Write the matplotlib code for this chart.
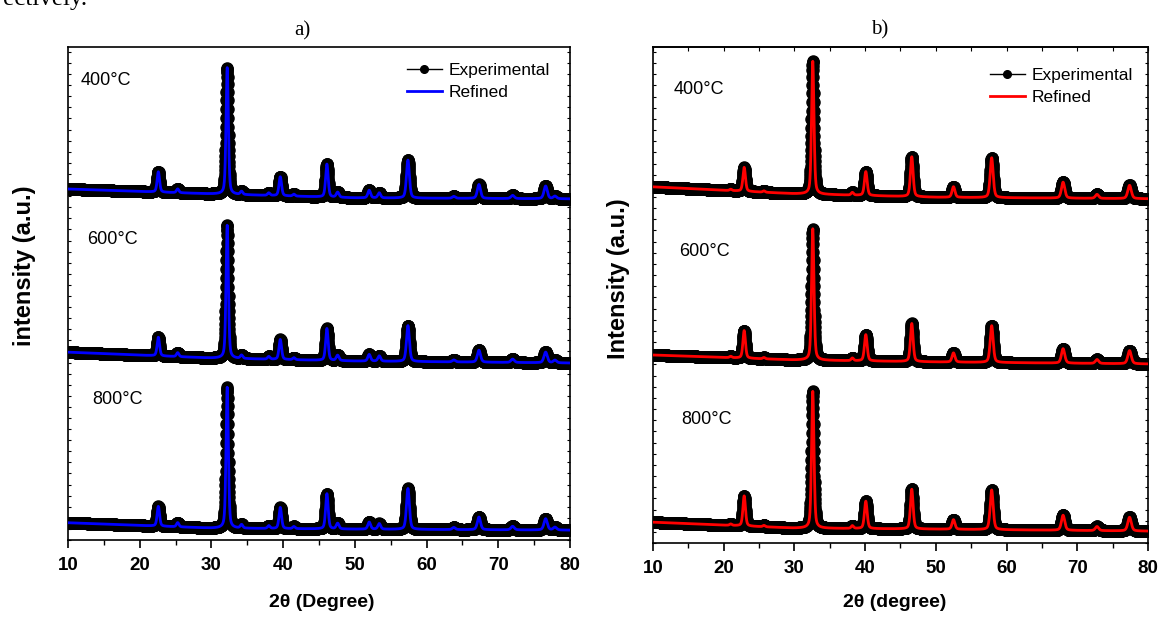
import numpy as np
import matplotlib
matplotlib.use('Agg')
import matplotlib.pyplot as plt
from matplotlib.lines import Line2D
from matplotlib.ticker import MultipleLocator, NullFormatter

# Data (y in axis units, heights relative to main peak)
temps = ['400°C', '600°C', '800°C']

# panel a) peak positions (2theta) and relative heights per temperature
peaks_a = [22.6, 25.3, 32.2, 34.2, 38.0, 39.6, 41.5, 46.1, 47.6, 52.0, 53.4, 57.4, 63.8, 67.3, 72.0, 76.6, 77.9]
fwhm_a = [0.40, 0.40, 0.38, 0.40, 0.40, 0.42, 0.40, 0.42, 0.45, 0.45, 0.45, 0.48, 0.5, 0.52, 0.55, 0.55, 0.55]
hts_a_400 = [0.16, 0.03, 1.0, 0.025, 0.02, 0.15, 0.015, 0.26, 0.04, 0.06, 0.04, 0.30, 0.015, 0.11, 0.025, 0.10, 0.02]
hts_a_600 = [0.14, 0.03, 1.0, 0.025, 0.02, 0.15, 0.015, 0.24, 0.04, 0.05, 0.04, 0.27, 0.015, 0.09, 0.025, 0.08, 0.02]
hts_a_800 = [0.14, 0.03, 1.0, 0.025, 0.02, 0.15, 0.015, 0.25, 0.04, 0.05, 0.04, 0.29, 0.015, 0.09, 0.025, 0.08, 0.02]
amp_a = [0.257, 0.27, 0.286]
# baseline at 2theta = 10, 30, 50, 80
bg_x = [10, 30, 50, 80]
bg_a = [[0.712, 0.702, 0.694, 0.692],
        [0.381, 0.369, 0.363, 0.359],
        [0.035, 0.024, 0.022, 0.020]]

# panel b)
peaks_b = [21.0, 22.9, 25.7, 32.6, 38.2, 40.1, 46.6, 52.5, 57.9, 68.0, 72.8, 77.4]
fwhm_b = [0.40, 0.42, 0.40, 0.40, 0.40, 0.45, 0.45, 0.48, 0.50, 0.55, 0.55, 0.58]
hts_b_400 = [0.01, 0.18, 0.01, 1.0, 0.02, 0.18, 0.30, 0.08, 0.30, 0.12, 0.03, 0.10]
hts_b_600 = [0.01, 0.21, 0.01, 1.0, 0.02, 0.20, 0.29, 0.07, 0.28, 0.11, 0.03, 0.10]
hts_b_800 = [0.01, 0.22, 0.01, 1.0, 0.02, 0.20, 0.29, 0.07, 0.29, 0.11, 0.03, 0.10]
amp_b = [0.268, 0.265, 0.276]
bg_b = [[0.718, 0.704, 0.697, 0.694],
        [0.379, 0.369, 0.365, 0.361],
        [0.042, 0.030, 0.028, 0.024]]

two_theta = np.arange(10, 80.001, 0.02)


def pattern(pos, fw, hts, amp, bg):
    y = np.interp(two_theta, bg_x, bg)
    for p, w, h in zip(pos, fw, hts):
        g = np.exp(-4 * np.log(2) * ((two_theta - p) / w) ** 2)
        l = 1 / (1 + 4 * ((two_theta - p) / w) ** 2)
        y = y + amp * h * (0.6 * g + 0.4 * l)
    return y


sans = ['Liberation Sans', 'DejaVu Sans']

fig = plt.figure(figsize=(11.6, 6.17), dpi=100)
ax_a = fig.add_axes([0.0586, 0.1248, 0.4328, 0.799])
ax_b = fig.add_axes([0.5629, 0.1199, 0.4267, 0.804])

panels = [
    (ax_a, peaks_a, fwhm_a, [hts_a_400, hts_a_600, hts_a_800], amp_a, bg_a, 'blue',
     [(11.81, 0.933), (12.65, 0.609), (13.35, 0.286)], (0.960, 0.968)),
    (ax_b, peaks_b, fwhm_b, [hts_b_400, hts_b_600, hts_b_800], amp_b, bg_b, '#ff0000',
     [(12.97, 0.915), (13.68, 0.587), (13.96, 0.248)], (0.970, 0.958)),
]

for ax, pos, fw, hts_list, amps, bgs, col, lab_xy, leg_xy in panels:
    for hts, amp, bg, t, (tx, ty) in zip(hts_list, amps, bgs, temps, lab_xy):
        y = pattern(pos, fw, hts, amp, bg)
        ax.plot(two_theta, y, color='black', marker='o', markersize=8, lw=1, zorder=2)
        ax.plot(two_theta, y, color=col, lw=2, zorder=3)
        ax.text(tx, ty, t, fontsize=13, family=sans, va='center', ha='left')
    ax.set_xlim(10, 80)
    ax.set_ylim(0, 1)
    ax.xaxis.set_major_locator(MultipleLocator(10))
    ax.xaxis.set_minor_locator(MultipleLocator(5))
    ax.yaxis.set_major_locator(MultipleLocator(0.0225))
    ax.yaxis.set_major_formatter(NullFormatter())
    ax.tick_params(axis='x', which='major', direction='out', length=6, width=1.2, pad=6)
    ax.tick_params(axis='x', which='minor', direction='out', length=3.5, width=1.0)
    ax.tick_params(axis='x', which='both', top=False)
    ax.tick_params(axis='y', which='major', direction='in', length=2.5, width=0.8,
                   left=True, right=True)
    for lbl in ax.get_xticklabels():
        lbl.set_family(sans)
        lbl.set_fontweight('bold')
        lbl.set_fontsize(13.5)
    for s in ax.spines.values():
        s.set_linewidth(1.2)
    handles = [Line2D([], [], color='black', marker='o', markersize=5.5, lw=1),
               Line2D([], [], color=col, lw=2)]
    ax.legend(handles, ['Experimental', 'Refined'], loc='upper right',
              bbox_to_anchor=leg_xy, frameon=False, handlelength=2.0,
              handletextpad=0.4, labelspacing=0.4, borderpad=0, borderaxespad=0,
              prop={'family': sans, 'size': 12.5})

# inward ticks along the top of panel b
sec = ax_b.secondary_xaxis('top')
sec.xaxis.set_major_locator(MultipleLocator(5))
sec.tick_params(direction='in', length=3, width=0.8, labeltop=False)
sec.spines['top'].set_linewidth(1.2)

fig.text(0.2603, 0.9498, 'a)', fontsize=15, family='Liberation Serif', ha='center', va='center')
fig.text(0.7586, 0.951, 'b)', fontsize=15, family='Liberation Serif', ha='center', va='center')
fig.text(0.003, 0.992, 'ectively.', fontsize=18, family='Liberation Serif', ha='left', va='baseline')

fig.text(0.2776, 0.0243, '2θ (Degree)', fontsize=14, fontweight='bold', family=sans,
         ha='center', va='center')
fig.text(0.7716, 0.0227, '2θ (degree)', fontsize=14, fontweight='bold', family=sans,
         ha='center', va='center')
fig.text(0.0207, 0.569, 'intensity (a.u.)', fontsize=17, fontweight='bold',
         family=sans, rotation=90, ha='center', va='center')
fig.text(0.5328, 0.549, 'Intensity (a.u.)', fontsize=17, fontweight='bold',
         family=sans, rotation=90, ha='center', va='center')

fig.savefig('out.png', dpi=100)
